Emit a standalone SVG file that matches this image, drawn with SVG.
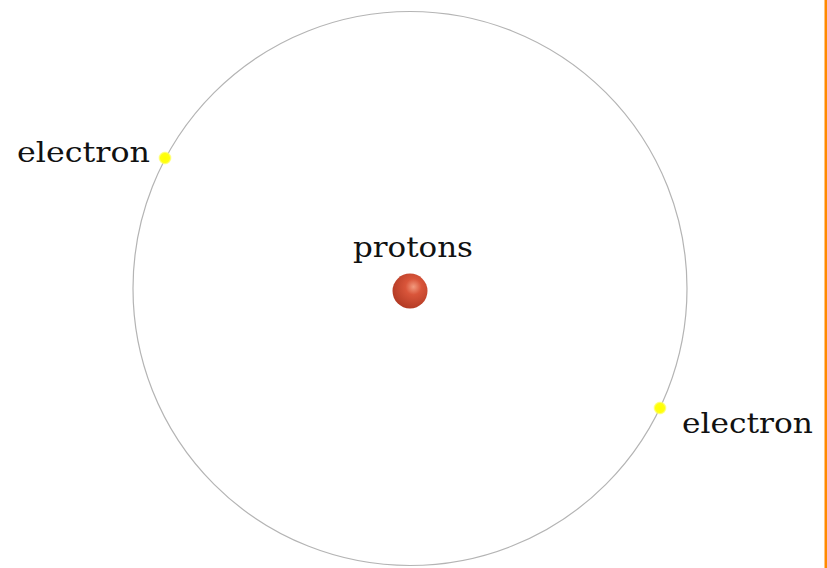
<svg xmlns="http://www.w3.org/2000/svg" width="827" height="568" viewBox="0 0 827 568">
  <style>
    .label { font-family: "DejaVu Serif", "Liberation Serif", serif; font-size: 28px; fill: #111; }
    .orbit { fill: none; stroke: #b4b4b4; stroke-width: 1.2; }
    .electron { fill: url(#eGrad); }
  </style>
  <defs>
    <radialGradient id="pGrad" cx="0.6" cy="0.38" r="0.65">
      <stop offset="0" stop-color="#f29a7e"/>
      <stop offset="0.35" stop-color="#d9553a"/>
      <stop offset="1" stop-color="#b23a24"/>
    </radialGradient>
    <radialGradient id="eGrad" cx="0.5" cy="0.5" r="0.5">
      <stop offset="0" stop-color="#ffff00"/>
      <stop offset="0.7" stop-color="#ffff10"/>
      <stop offset="1" stop-color="#ffff80" stop-opacity="0.6"/>
    </radialGradient>
  </defs>
  <rect width="827" height="568" fill="#ffffff"/>
  <rect x="824.5" y="0" width="2.5" height="568" fill="#ff8a00"/>
  <g id="orbit">
    <circle class="orbit" cx="410" cy="288.5" r="277"/>
  </g>
  <g id="nucleus">
    <circle cx="410" cy="291" r="17.5" fill="url(#pGrad)"/>
    <text class="label" x="353" y="257" textLength="120" lengthAdjust="spacingAndGlyphs">protons</text>
  </g>
  <g id="electron1">
    <circle class="electron" cx="165" cy="158" r="6.5"/>
    <text class="label" x="17" y="162" textLength="133" lengthAdjust="spacingAndGlyphs">electron</text>
  </g>
  <g id="electron2">
    <circle class="electron" cx="660" cy="408" r="6.5"/>
    <text class="label" x="682" y="433" textLength="131" lengthAdjust="spacingAndGlyphs">electron</text>
  </g>
  <g id="connectors"></g>
</svg>
